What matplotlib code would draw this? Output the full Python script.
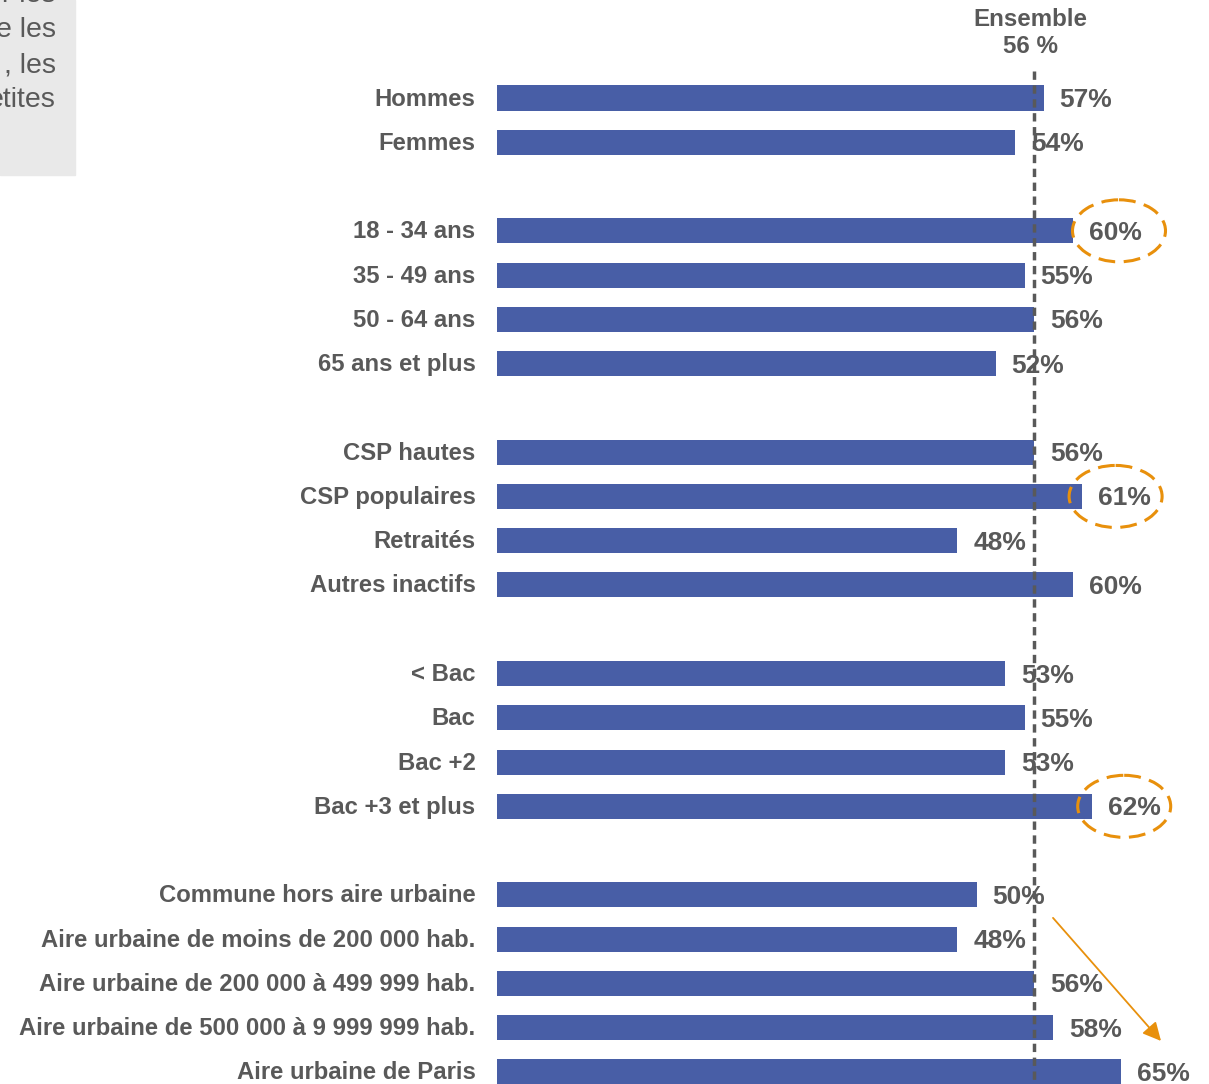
import matplotlib.pyplot as plt
from matplotlib.patches import Ellipse, Rectangle

plt.rcParams['font.family'] = ['Liberation Sans', 'DejaVu Sans']

# data
categories = ['Hommes', 'Femmes', '',
              '18 - 34 ans', '35 - 49 ans', '50 - 64 ans', '65 ans et plus', '',
              'CSP hautes', 'CSP populaires', 'Retraités', 'Autres inactifs', '',
              '< Bac', 'Bac', 'Bac +2', 'Bac +3 et plus', '',
              'Commune hors aire urbaine', 'Aire urbaine de moins de 200 000 hab.',
              'Aire urbaine de 200 000 à 499 999 hab.',
              'Aire urbaine de 500 000 à 9 999 999 hab.', 'Aire urbaine de Paris']
values = [57, 54, None,
          60, 55, 56, 52, None,
          56, 61, 48, 60, None,
          53, 55, 53, 62, None,
          50, 48, 56, 58, 65]
ensemble = 56
highlighted = ['18 - 34 ans', 'CSP populaires', 'Bac +3 et plus']
box_lines = ['r les', 'e les', ', les', 'etites']

grey = '#595959'
blue = '#485EA6'
orange = '#E8900C'

W, H = 1209, 1084
fig = plt.figure(figsize=(W / 100, H / 100), dpi=100)

# axes: 0% at x=496.5 px, 9.6 px per %, rows every 44.27 px starting at y=98
x0, pxper = 496.5, 9.6
y0, row = 98, 44.27
ax = fig.add_axes([x0 / W, 0, 1 - x0 / W, 1])
ax.set_xlim(0, (W - x0) / pxper)
n = len(categories)
ax.set_ylim((n - 1) + (H - y0 - (n - 1) * row) / row, -y0 / row)
ax.axis('off')

pos = [i for i, v in enumerate(values) if v is not None]
vals = [values[i] for i in pos]
ax.barh(pos, vals, height=0.565, color=blue, zorder=2)

for i in pos:
    ax.annotate(f'{values[i]}%', (values[i], i), xytext=(16, -2),
                textcoords='offset pixels', ha='left', va='center',
                fontsize=19, fontweight='bold', color=grey, zorder=4)
    ax.annotate(categories[i], (0, i), xytext=(-21, -1),
                textcoords='offset pixels', ha='right', va='center',
                fontsize=17.2, fontweight='bold', color=grey)

# reference line
ax.plot([ensemble, ensemble], [-27 / row, n], ls=(0, (2.4, 1.6)), lw=2.5,
        color=grey, zorder=3, clip_on=False)
ax.annotate(f'Ensemble\n{ensemble} %', (ensemble, -65 / row), xytext=(-3.5, 0),
            textcoords='offset pixels', ha='center', va='center',
            fontsize=17.4, fontweight='bold', color=grey, linespacing=1.25)

# highlight ellipses (offset in px from label center)
ell_dx = [4.5, -8.5, -9.5]
for name, dx in zip(highlighted, ell_dx):
    i = categories.index(name)
    cx = values[i] + (16 + 26 + dx) / pxper
    ax.add_patch(Ellipse((cx, i), 93 / pxper, 62 / row, fill=False,
                         ec=orange, lw=2.2, ls=(0, (5.5, 2.8)), zorder=5,
                         clip_on=False))

# arrow for urban area trend
i_start = categories.index('Commune hors aire urbaine')
i_end = categories.index('Aire urbaine de Paris')
ax.annotate('', xy=((1161 - x0) / pxper, i_end - 0.7),
            xytext=((1053 - x0) / pxper, i_start + 0.52),
            arrowprops=dict(arrowstyle='-|>,head_length=1.1,head_width=0.55',
                            color=orange, lw=1.3, shrinkA=0, shrinkB=0),
            zorder=5)

# grey text box cut at top-left
fig.patches.append(Rectangle((0, 1 - 175 / H), 75 / W, 175 / H,
                             transform=fig.transFigure, color='#E9E9E9', zorder=0))
for k, line in enumerate(box_lines):
    fig.text(56 / W, 1 - (2 + 35 * k) / H, line, ha='right', va='baseline',
             fontsize=20.5, color=grey)

fig.savefig('out.png', dpi=100)
